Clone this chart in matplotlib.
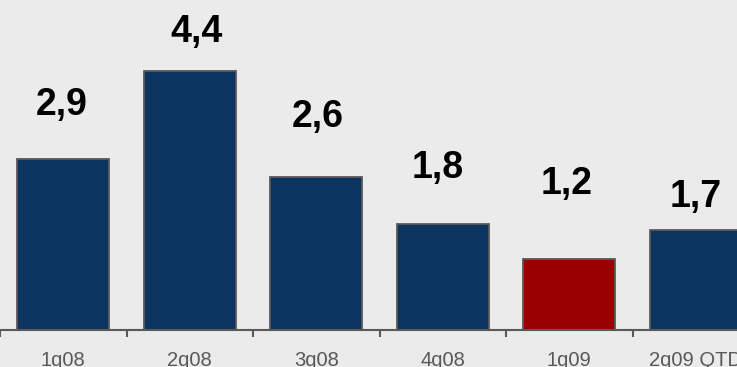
import matplotlib.pyplot as plt
import numpy as np

plt.rcParams['font.family'] = ['Liberation Sans', 'DejaVu Sans']

quarters = ['1q08', '2q08', '3q08', '4q08', '1q09', '2q09 QTD']
values = [2.9, 4.4, 2.6, 1.8, 1.2, 1.7]
value_labels = ['2,9', '4,4', '2,6', '1,8', '1,2', '1,7']

# label placement tweaks (data units), as in the original slide
label_dy = [0.76, 0.50, 0.86, 0.78, 1.12, 0.40]
label_dx = [-0.016, 0.055, 0.008, -0.04, -0.02, 0.0]

navy = '#0B3560'
red = '#990000'
bg = '#EBEBEB'
colors = [navy, navy, navy, navy, red, navy]

fig = plt.figure(figsize=(7.37, 3.67), dpi=100, facecolor=bg)
ax = fig.add_axes([0, 37 / 367, 1, 330 / 367])
ax.set_facecolor(bg)

x = np.arange(len(quarters))
ax.bar(x, values, width=0.727, color=colors, edgecolor='#5A5A5A', linewidth=1.3, zorder=2)

for i, (v, lab) in enumerate(zip(values, value_labels)):
    ax.text(x[i] + label_dx[i], v + label_dy[i], lab, ha='center', va='baseline',
            fontsize=27, fontweight='bold', color='black')

for s in ['left', 'right', 'top']:
    ax.spines[s].set_visible(False)
ax.spines['bottom'].set_color('#595959')
ax.spines['bottom'].set_linewidth(1.5)
ax.set_yticks([])

ax.set_xticks(x)
ax.set_xticklabels(quarters)
ax.tick_params(axis='x', which='major', length=0, pad=15, labelsize=14.5, labelcolor='#595959')
ax.set_xticks(np.arange(-0.5, len(quarters), 1.0), minor=True)
ax.tick_params(axis='x', which='minor', length=5, width=1.5, color='#595959', direction='out')

ax.set_xlim(-0.5, -0.5 + 737 / 126.5)
ax.set_ylim(0, 330 / 58.8)

fig.savefig('out.png', dpi=100, facecolor=bg)
